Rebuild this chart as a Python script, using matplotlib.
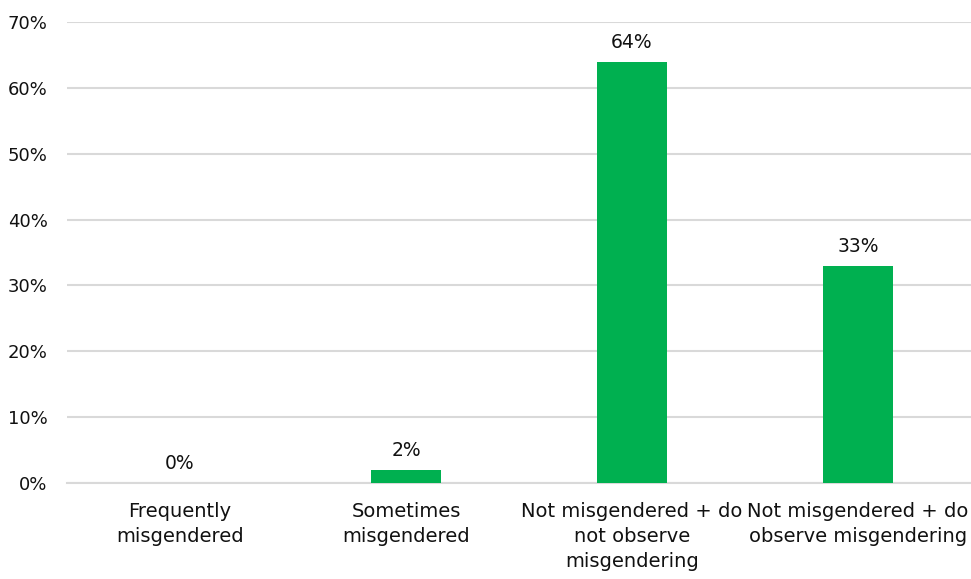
import matplotlib.pyplot as plt
from matplotlib.ticker import PercentFormatter

categories = ["Frequently\nmisgendered", "Sometimes\nmisgendered",
              "Not misgendered + do\nnot observe\nmisgendering",
              "Not misgendered + do\nobserve misgendering"]
values = [0, 2, 64, 33]

plt.rcParams['font.family'] = 'DejaVu Sans'

fig = plt.figure(figsize=(9.71, 5.79), dpi=100)
ax = fig.add_axes([0.069, 0.166, 0.931, 0.796])

x = range(len(categories))
bars = ax.bar(x, values, width=0.31, color='#00B050', zorder=3)
for b, v in zip(bars, values):
    ax.text(b.get_x() + b.get_width()/2, v + 1.5, f"{v}%", ha='center', va='bottom',
            fontsize=13.5, color='#111111')

ax.set_xlim(-0.5, len(categories) - 0.5)
ax.set_ylim(0, 70)
ax.set_yticks(range(0, 71, 10))
ax.yaxis.set_major_formatter(PercentFormatter(decimals=0))
ax.set_xticks(list(x))
ax.set_xticklabels(categories, fontsize=14, color='#111111', linespacing=1.38)
ax.tick_params(axis='y', length=0, labelsize=13, labelcolor='#111111', pad=14)
ax.tick_params(axis='x', length=0, pad=14)
ax.grid(axis='y', color='#d9d9d9', linewidth=1.5, zorder=0)
for s in ['top', 'right', 'left']:
    ax.spines[s].set_visible(False)
ax.spines['bottom'].set_color('#d9d9d9')
ax.spines['bottom'].set_linewidth(1.5)

fig.savefig('out.png', dpi=100)
